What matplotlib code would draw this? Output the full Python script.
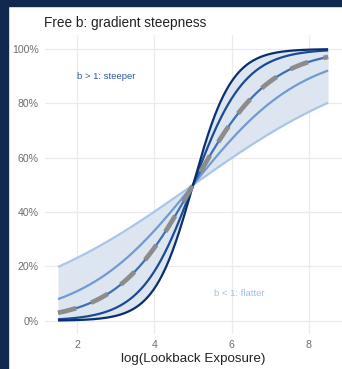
import numpy as np
import matplotlib
matplotlib.use("Agg")
import matplotlib.pyplot as plt
from matplotlib.patches import Rectangle
from matplotlib.ticker import FuncFormatter

plt.rcParams['font.family'] = ['Liberation Sans', 'DejaVu Sans']
plt.rcParams['lines.scale_dashes'] = False

# Logistic response curves centred at x0 with varying steepness b
x0 = 5.0
x_min, x_max = 1.5, 8.5
b_values = [0.4, 0.7, 1.0, 1.5, 2.0]
b_colors = ['#a8c6e8', '#6f9bd2', '#3f6fb2', '#1c4a92', '#0a2f6e']
reference_b = 1.0
x_ticks = [2, 4, 6, 8]
y_ticks = [0.0, 0.2, 0.4, 0.6, 0.8, 1.0]
title = "Free b: gradient steepness"
x_label = "log(Lookback Exposure)"
steep_note = "b > 1: steeper"
flat_note = "b < 1: flatter"


def logistic(x, b):
    return 1.0 / (1.0 + np.exp(-b * (x - x0)))


W, H = 342, 369
fig = plt.figure(figsize=(W / 100, H / 100), dpi=100)
fig.patch.set_facecolor('white')

# navy frame strips on the left and top
fig.patches.append(Rectangle((0, 0), 8 / W, 1, transform=fig.transFigure,
                             color='#12294f', zorder=0))
fig.patches.append(Rectangle((0, 1 - 6 / H), 1, 6 / H, transform=fig.transFigure,
                             color='#12294f', zorder=0))

left, right = 44.5 / W, 341.6 / W
bottom, top = 1 - 334.3 / H, 1 - 35.4 / H
ax = fig.add_axes([left, bottom, right - left, top - bottom])
ax.set_facecolor('white')

x = np.linspace(x_min, x_max, 400)
curves = [logistic(x, b) for b in b_values]
lo = np.min(curves, axis=0)
hi = np.max(curves, axis=0)
ax.fill_between(x, lo, hi, color='#dce5f0', alpha=0.95, lw=0, zorder=1)

for y, c in zip(curves, b_colors):
    ax.plot(x, y, color=c, lw=1.6, zorder=2, solid_capstyle='butt')

ax.plot(x, logistic(x, reference_b), color='#8c8c8c', lw=3.4,
        dashes=(13.5, 11.5), zorder=3, dash_capstyle='butt')

ax.text(2.75, 0.90, steep_note, color='#2e5aa0', fontsize=6.8,
        ha='center', va='center')
ax.text(6.2, 0.10, flat_note, color='#9fc0e6', fontsize=6.8,
        ha='center', va='center')

span = x_max - x_min
ax.set_xlim(x_min - 0.05 * span, x_max + 0.05 * span)
ax.set_ylim(-0.05, 1.05)
ax.set_xticks(x_ticks)
ax.set_yticks(y_ticks)
ax.yaxis.set_major_formatter(FuncFormatter(lambda v, p: f"{v * 100:.0f}%"))
ax.grid(True, color='#ebebeb', lw=0.9, zorder=0)
ax.set_axisbelow(True)
for s in ax.spines.values():
    s.set_visible(False)
ax.tick_params(length=0, labelsize=7.6, labelcolor='#6e6e6e', pad=4)

ax.set_xlabel(x_label, fontsize=9.6, color='#222222', labelpad=2)
ax.set_title(title, fontsize=9.8, color='#222222', loc='left', pad=6)

fig.savefig('out.png', dpi=100, facecolor='white')
